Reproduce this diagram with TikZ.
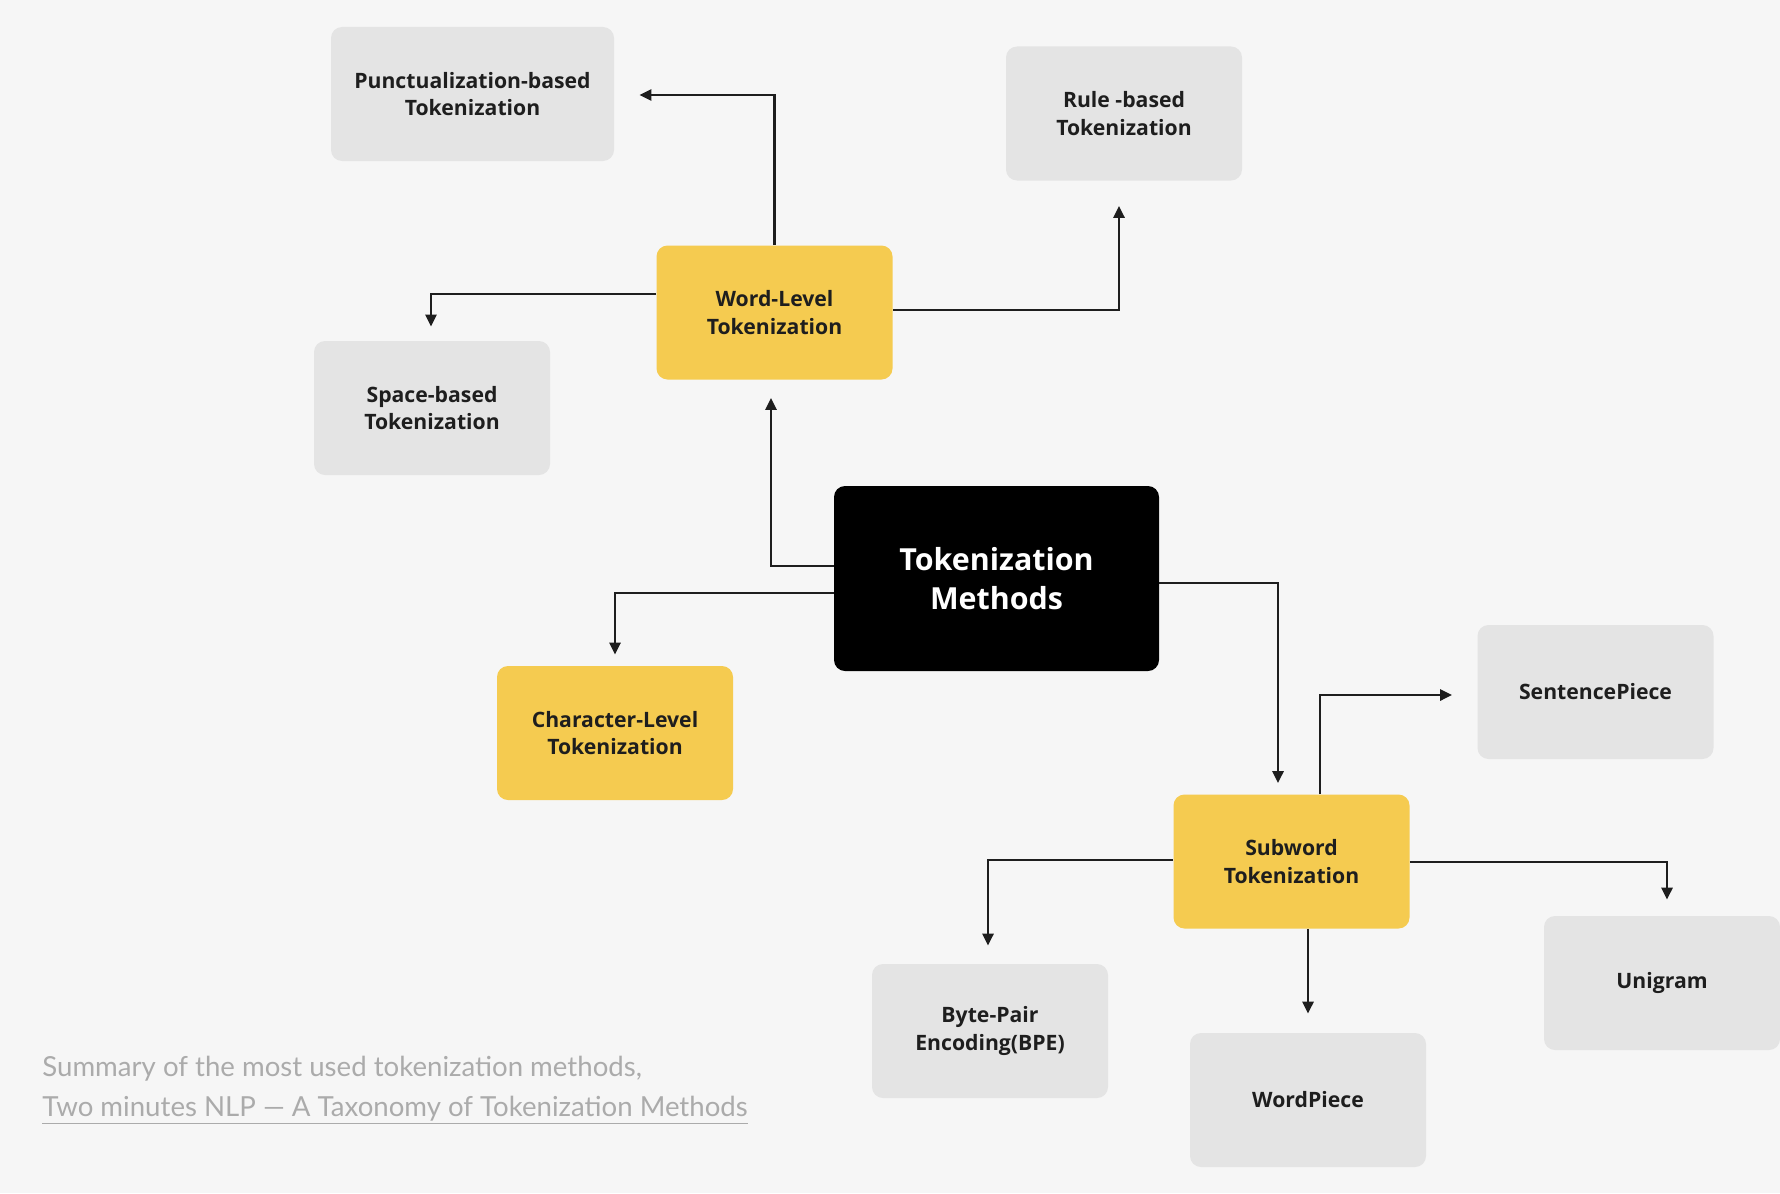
\documentclass[tikz,border=0pt]{standalone}
\usepackage{fontspec}
\setmainfont{Open Sans}
\newfontfamily\notefont{Lato}
\usetikzlibrary{arrows.meta, positioning, calc}

\definecolor{pagebg}{HTML}{F6F6F6}
\definecolor{leafgray}{HTML}{E4E4E4}
\definecolor{tokyellow}{HTML}{F5CB50}
\definecolor{notegray}{HTML}{ABABAB}
\definecolor{inkdark}{HTML}{1E1E1E}

\begin{document}
\begin{tikzpicture}[
    x=0.5pt, y=-0.5pt,
    font=\fontsize{10.6}{13.6}\selectfont\bfseries,
    >={Triangle[length=6pt,width=5.5pt]},
    box/.style={rectangle, fill=#1, rounded corners=5.5pt, minimum width=118pt, minimum height=67pt, align=center, text=inkdark, inner sep=0pt},
    link/.style={->, line width=1.4pt, draw=inkdark},
]
    \fill[pagebg] (0,0) rectangle (1780,1193);

    % root
    \node[box=black, text=white, minimum width=162.5pt, minimum height=92.5pt, font=\fontsize{15.2}{19.3}\selectfont\bfseries] (methods) at (996.5,578.5) {Tokenization\\Methods};

    % main families
    \node[box=tokyellow] (word) at (774.5,312.5) {Word-Level\\Tokenization};
    \node[box=tokyellow] (char) at (615,733) {Character-Level\\Tokenization};
    \node[box=tokyellow] (subword) at (1291.5,861.5) {Subword\\Tokenization};

    % word-level leaves
    \node[box=leafgray, minimum width=141.5pt] (punct) at (472.5,94) {Punctualization-based\\Tokenization};
    \node[box=leafgray] (rule) at (1124,113.5) {Rule -based\\Tokenization};
    \node[box=leafgray] (space) at (432,408) {Space-based\\Tokenization};

    % subword leaves
    \node[box=leafgray] (sp) at (1595.5,692) {SentencePiece};
    \node[box=leafgray] (bpe) at (990,1031) {Byte-Pair\\Encoding(BPE)};
    \node[box=leafgray] (wp) at (1308,1100) {WordPiece};
    \node[box=leafgray] (uni) at (1662,983) {Unigram};

    % arrow tips stop short of the boxes
    \coordinate (punctIn) at ($(punct.east)+(25,1)$);
    \coordinate (ruleIn) at ($(rule.south)+(-5,25)$);
    \coordinate (spaceIn) at ($(space.north)+(-1,-14)$);
    \coordinate (wordIn) at ($(word.south)+(-3.5,18)$);
    \coordinate (charIn) at ($(char.north)+(0,-11)$);
    \coordinate (subIn) at ($(subword.north)+(-13.5,-11)$);
    \coordinate (spIn) at ($(sp.west)+(-25,3)$);
    \coordinate (bpeIn) at ($(bpe.north)+(-2,-18)$);
    \coordinate (wpIn) at ($(wp.north)+(0,-19)$);
    \coordinate (uniIn) at ($(uni.north)+(5,-16)$);

    \draw[link] (word.north) |- (punctIn);
    \draw[link] ($(word.west)+(0,-18.5)$) -| (spaceIn);
    \draw[link] ($(word.east)+(0,-2.5)$) -| (ruleIn);
    \draw[link] ($(methods.west)+(0,-12.5)$) -| (wordIn);
    \draw[link] ($(methods.west)+(0,14.5)$) -| (charIn);
    \draw[link] ($(methods.east)+(0,4.5)$) -| (subIn);
    \draw[link] ($(subword.north)+(28.5,0)$) |- (spIn);
    \draw[link] ($(subword.west)+(0,-1.5)$) -| (bpeIn);
    \draw[link] ($(subword.south)+(16.5,0)$) -- (wpIn);
    \draw[link] ($(subword.east)+(0,0.5)$) -| (uniIn);

    \node[anchor=north west, align=left, inner sep=0pt, text=notegray, font=\notefont\fontsize{13.8}{19.7}\selectfont] (note) at (42,1056) {Summary of the most used tokenization methods,\\\underline{Two minutes NLP — A Taxonomy of Tokenization Methods}};
\end{tikzpicture}
\end{document}
